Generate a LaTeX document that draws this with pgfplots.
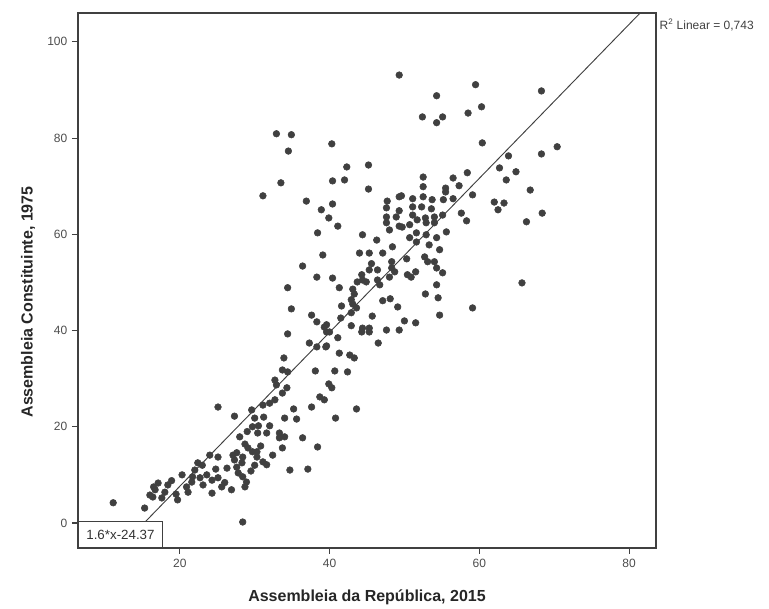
\documentclass[border=0pt]{standalone}
\usepackage{pgfplots}
\pgfplotsset{compat=1.18}
\usepackage{fontspec}
\setmainfont{Liberation Sans}
\pgfplotstableread{
x y
49.3 93.1
54.3 88.8
52.4 84.4
54.3 83.2
55.1 84.4
32.9 80.9
34.9 80.7
34.5 77.3
40.3 78.8
42.3 74.0
45.2 74.4
33.5 70.7
40.4 71.1
42.0 71.3
45.2 69.4
52.5 71.9
52.5 69.9
31.1 68.0
49.6 68.0
59.5 91.1
68.3 89.8
60.3 86.5
58.5 85.2
60.4 79.0
70.4 78.2
63.9 76.3
68.3 76.7
62.7 73.8
64.9 73.0
56.5 71.7
58.4 72.8
57.3 70.1
55.5 69.6
55.5 68.8
63.6 71.3
66.8 69.2
36.9 66.9
38.9 65.1
40.4 66.3
39.9 63.4
41.1 61.7
38.4 60.3
39.1 55.7
59.1 68.2
62.0 66.7
63.3 66.5
62.5 65.1
68.4 64.4
66.3 62.6
57.6 64.4
58.3 62.8
47.7 66.9
49.3 67.8
51.1 67.4
52.5 67.8
53.7 67.2
55.2 67.2
56.5 67.4
47.6 65.5
49.3 64.9
51.1 65.7
52.3 65.7
53.6 65.3
47.6 63.6
48.9 63.6
51.1 64.0
52.8 63.4
54.0 63.6
55.1 64.0
47.6 62.4
49.3 61.7
50.7 62.0
51.7 63.0
52.9 62.4
54.0 62.4
55.6 60.5
44.4 59.9
46.3 58.8
48.0 60.9
49.7 61.5
51.6 60.3
52.9 59.9
54.3 59.3
53.3 57.8
44.0 56.1
45.3 56.1
47.1 56.1
48.4 57.4
50.7 59.3
51.6 58.4
52.7 55.3
54.7 56.8
55.1 52.0
65.7 49.9
59.1 44.7
45.6 53.9
45.3 52.6
46.4 52.6
48.3 54.3
48.3 53.0
48.7 52.2
48.0 51.1
50.3 54.9
50.4 51.6
50.9 51.1
51.5 52.2
53.1 54.3
54.0 54.3
54.3 53.0
54.3 49.5
52.8 47.6
54.5 46.8
54.7 43.2
40.4 50.9
41.3 48.9
43.1 48.6
43.3 47.6
42.9 46.4
44.3 51.6
44.4 50.5
43.7 50.1
44.9 50.1
46.4 50.5
46.7 49.5
47.1 46.2
48.1 46.6
49.1 44.9
41.6 45.1
43.1 45.5
43.6 44.7
41.5 42.6
42.9 43.7
45.7 43.0
39.6 41.2
39.6 39.7
42.9 41.0
44.4 40.5
45.3 40.5
45.3 39.7
44.3 39.7
47.6 40.1
49.3 40.1
50.0 42.0
51.5 41.6
41.1 38.5
39.5 36.6
46.5 37.4
36.4 53.4
34.4 48.9
34.9 44.5
38.3 51.1
37.6 43.2
38.3 41.8
34.4 39.3
39.3 40.7
40.0 39.7
37.3 37.4
38.3 36.6
39.6 36.8
41.3 35.3
42.7 34.9
43.3 34.3
33.9 34.3
38.1 31.6
40.7 31.6
42.4 31.4
33.7 31.8
34.4 31.4
32.7 29.7
32.9 28.7
34.3 28.1
33.7 27.0
39.9 28.9
40.3 28.1
38.7 26.2
39.3 25.6
37.6 24.1
35.2 23.7
43.6 23.7
40.8 21.8
35.6 21.6
32.7 25.6
32.0 24.9
31.1 24.5
34.0 21.8
29.6 23.5
30.0 21.8
27.3 22.2
30.5 20.2
32.0 20.2
33.3 18.7
34.0 17.9
31.6 18.7
36.4 17.7
38.4 15.8
33.7 15.6
32.4 14.1
28.0 17.9
28.7 16.4
29.1 15.6
29.7 14.8
30.3 13.7
27.6 14.6
28.4 13.7
25.1 24.1
34.7 11.0
37.1 11.2
11.1 4.2
15.3 3.1
28.4 0.2
16.0 5.8
16.7 6.9
17.1 8.3
16.4 5.4
17.6 5.2
18.4 7.9
18.0 6.4
19.7 4.8
20.3 10.0
20.9 7.5
21.6 8.5
21.7 9.6
21.1 6.4
22.4 12.5
22.7 9.4
23.1 7.9
23.6 10.0
24.3 8.9
24.0 14.1
25.1 13.7
24.3 6.2
25.1 9.4
25.6 7.5
26.3 11.4
26.9 6.9
27.1 14.1
27.3 13.1
27.6 11.6
28.3 12.5
28.4 9.6
28.9 8.5
28.7 7.5
30.3 14.8
31.1 12.7
29.7 20.0
30.4 18.7
33.3 17.7
31.6 12.1
16.5 7.5
18.9 8.8
19.5 6.0
22.0 11.0
23.0 12.0
24.8 11.2
26.0 8.4
27.8 10.4
29.5 10.8
30.0 12.0
30.8 16.0
31.2 22.0
29.0 19.0
}\scatterdata
\begin{document}
\begin{tikzpicture}
\useasboundingbox (-58.5pt,-45.75pt) rectangle (518.25pt,411pt);
\begin{axis}[
  at={(0,0)}, anchor=south west,
  width=433.5pt, height=401.25pt, scale only axis,
  xmin=6.4, xmax=83.6, ymin=-5.2, ymax=106,
  xtick={20,40,60,80}, ytick={0,20,40,60,80,100},
  tick align=outside, major tick length=4.5pt,
  xtick pos=bottom, ytick pos=left,
  axis line style={black!75, line width=0.8pt},
  every tick/.style={black!75, line width=0.8pt},
  /pgf/number format/assume math mode=true,
  ticklabel style={font=\fontsize{9}{10}\selectfont, text=black!70},
  xlabel={Assembleia da República, 2015},
  ylabel={Assembleia Constituinte, 1975},
  xlabel style={font=\bfseries\fontsize{12}{14}\selectfont, text=black!85, at={(axis description cs:0.5,-0.0916)}, anchor=center},
  ylabel style={font=\bfseries\fontsize{12}{14}\selectfont, text=black!85, at={(axis description cs:-0.0865,0.46)}, anchor=center},
]
\addplot[only marks, mark=*, mark size=2.5pt, mark options={draw=black!75, fill=black!75}] table[x=x, y=y] {\scatterdata};
\addplot[black!75, line width=0.7pt] coordinates {(6.4,-14.13) (84,110.03)};
\node[draw=black!75, line width=0.7pt, fill=white, anchor=south west, minimum width=63pt, minimum height=19.5pt, inner sep=0pt, font=\fontsize{10}{11}\selectfont, text=black!80] at (rel axis cs:0,0) {1.6*x-24.37};
\end{axis}
\node[anchor=west, inner sep=0pt, font=\fontsize{9}{10}\selectfont, text=black!75] at (436pt,392pt) {R\textsuperscript{2} Linear = 0,743};
\end{tikzpicture}
\end{document}
